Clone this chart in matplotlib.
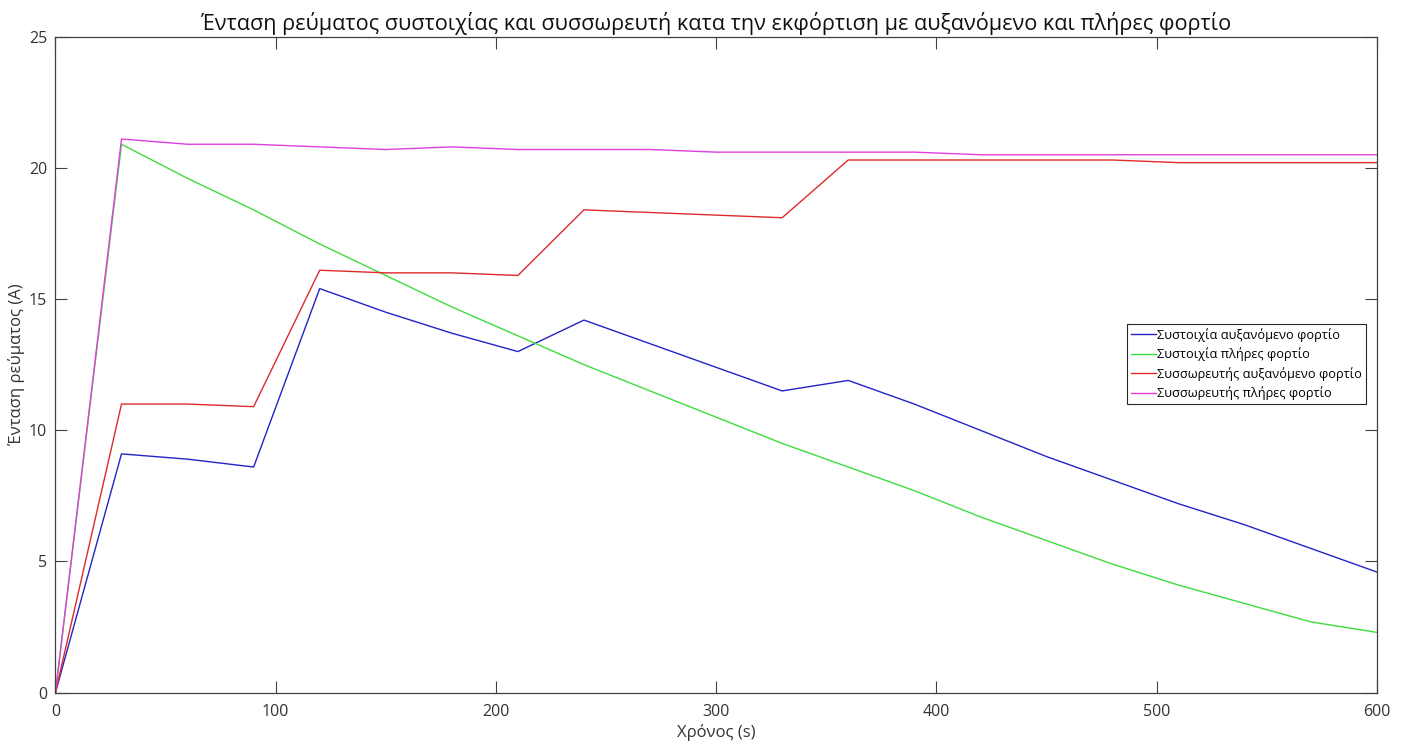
import matplotlib
matplotlib.use("Agg")
import matplotlib.pyplot as plt

# Time samples (s)
time_s = [0, 30, 60, 90, 120, 150, 180, 210, 240, 270, 300,
          330, 360, 390, 420, 450, 480, 510, 540, 570, 600]

# Current (A) for each case
array_increasing = [0, 9.1, 8.9, 8.6, 15.4, 14.5, 13.7, 13.0, 14.2, 13.3, 12.4,
                    11.5, 11.9, 11.0, 10.0, 9.0, 8.1, 7.2, 6.4, 5.5, 4.6]
array_full = [0, 20.9, 19.6, 18.4, 17.1, 15.9, 14.7, 13.6, 12.5, 11.5, 10.5,
              9.5, 8.6, 7.7, 6.7, 5.8, 4.9, 4.1, 3.4, 2.7, 2.3]
battery_increasing = [0, 11.0, 11.0, 10.9, 16.1, 16.0, 16.0, 15.9, 18.4, 18.3, 18.2,
                      18.1, 20.3, 20.3, 20.3, 20.3, 20.3, 20.2, 20.2, 20.2, 20.2]
battery_full = [0, 21.1, 20.9, 20.9, 20.8, 20.7, 20.8, 20.7, 20.7, 20.7, 20.6,
                20.6, 20.6, 20.6, 20.5, 20.5, 20.5, 20.5, 20.5, 20.5, 20.5]

labels = ["Συστοιχία αυξανόμενο φορτίο",
          "Συστοιχία πλήρες φορτίο",
          "Συσσωρευτής αυξανόμενο φορτίο",
          "Συσσωρευτής πλήρες φορτίο"]
colors = ["#2323c8", "#3ddc3d", "#de2a2a", "#e040e0"]

x_ticks = [0, 100, 200, 300, 400, 500, 600]
y_ticks = [0, 5, 10, 15, 20, 25]

plt.rcParams["font.family"] = ["Open Sans", "DejaVu Sans"]

fig = plt.figure(figsize=(14.07, 7.47), dpi=100)
ax = fig.add_axes([0.0394, 0.0727, 0.9391, 0.8782])

series = [array_increasing, array_full, battery_increasing, battery_full]
for ys, lab, col in zip(series, labels, colors):
    ax.plot(time_s, ys, color=col, linewidth=1.0, label=lab)

ax.set_xlim(0, 600)
ax.set_ylim(0, 25)
ax.set_xticks(x_ticks)
ax.set_yticks(y_ticks)

axis_gray = "#404040"
for sp in ax.spines.values():
    sp.set_color(axis_gray)
    sp.set_linewidth(0.9)
ax.tick_params(direction="in", length=8.5, width=0.8, color=axis_gray,
               labelcolor="#333333", labelsize=11.5,
               top=True, right=True)
ax.tick_params(axis="x", pad=8)
ax.tick_params(axis="y", pad=6)

ax.set_xlabel("Χρόνος (s)", fontsize=12, color="#333333", labelpad=3)
ax.set_ylabel("Ένταση ρεύματος (A)", fontsize=12, color="#333333", labelpad=3)
ax.set_title("Ένταση ρεύματος συστοιχίας και συσσωρευτή κατα την εκφόρτιση με αυξανόμενο και πλήρες φορτίο",
             fontsize=15.6, color="#111111", pad=5)

leg = ax.legend(loc="upper right", bbox_to_anchor=(0.992, 0.562),
                fontsize=9.2, frameon=True, fancybox=False, framealpha=1,
                edgecolor="#262626", handlelength=2.0, handletextpad=0.1,
                labelspacing=0.45, borderpad=0.3, borderaxespad=0)
leg.get_frame().set_linewidth(0.8)

fig.savefig("out.png", dpi=100)
